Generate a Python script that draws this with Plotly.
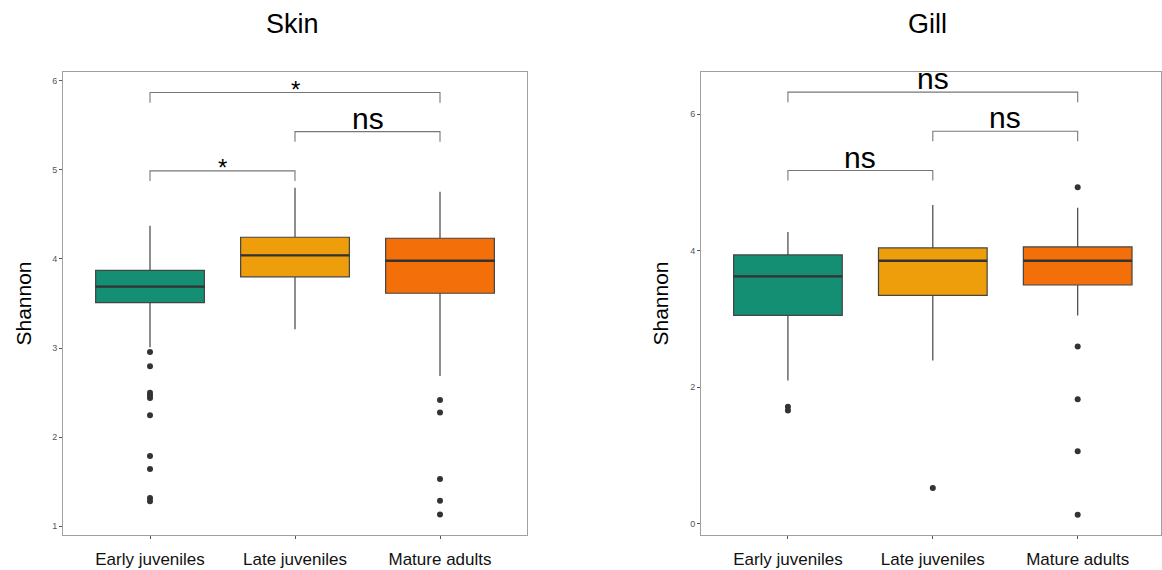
import plotly.graph_objects as go

categories = ["Early juveniles", "Late juveniles", "Mature adults"]
colors = ["#148F73", "#EE9E0A", "#F36F0A"]

# Skin panel stats
skin_q1 = [3.51, 3.80, 3.615]
skin_median = [3.69, 4.04, 3.98]
skin_q3 = [3.873, 4.244, 4.233]
skin_lower = [3.008, 3.21, 2.685]
skin_upper = [4.374, 4.80, 4.756]
skin_outliers = [
    [2.955, 2.794, 2.498, 2.469, 2.438, 2.244, 1.787, 1.640, 1.315, 1.278],
    [],
    [2.416, 2.277, 1.528, 1.285, 1.131],
]

# Gill panel stats
gill_q1 = [3.05, 3.344, 3.496]
gill_median = [3.623, 3.853, 3.853]
gill_q3 = [3.937, 4.04, 4.054]
gill_lower = [2.095, 2.39, 3.05]
gill_upper = [4.275, 4.671, 4.631]
gill_outliers = [
    [1.709, 1.655],
    [0.519],
    [4.93, 2.595, 1.822, 1.059, 0.128],
]

# Significance brackets: (group a, group b, bar height, tick bottom, label)
skin_brackets = [(0, 1, 4.989, 4.876, "*"), (1, 2, 5.43, 5.318, "ns"), (0, 2, 5.869, 5.756, "*")]
gill_brackets = [(0, 1, 5.175, 5.028, "ns"), (1, 2, 5.752, 5.605, "ns"), (0, 2, 6.325, 6.178, "ns")]

skin_ticks = [1, 2, 3, 4, 5, 6]
gill_ticks = [0, 2, 4, 6]

BOX_W = 0.75
FONT = "Liberation Sans, Arial, sans-serif"

fig = go.Figure()


def add_panel(xa, ya, q1, med, q3, lo, hi, outs, brackets):
    for i in range(len(categories)):
        fig.add_trace(go.Box(
            x=[i], q1=[q1[i]], median=[med[i]], q3=[q3[i]],
            lowerfence=[lo[i]], upperfence=[hi[i]],
            width=BOX_W, fillcolor=colors[i],
            line=dict(color="#444444", width=1.2),
            whiskerwidth=0, boxpoints=False,
            xaxis=xa, yaxis=ya, showlegend=False, hoverinfo="skip",
        ))
        # thicker median line
        fig.add_trace(go.Scatter(
            x=[i - BOX_W / 2, i + BOX_W / 2], y=[med[i], med[i]],
            mode="lines", line=dict(color="#333333", width=2.4),
            xaxis=xa, yaxis=ya, showlegend=False, hoverinfo="skip",
        ))
        if outs[i]:
            fig.add_trace(go.Scatter(
                x=[i] * len(outs[i]), y=outs[i], mode="markers",
                marker=dict(color="#333333", size=6),
                xaxis=xa, yaxis=ya, showlegend=False, hoverinfo="skip",
            ))
    for a, b, top, tick, lab in brackets:
        fig.add_trace(go.Scatter(
            x=[a, a, b, b], y=[tick, top, top, tick], mode="lines",
            line=dict(color="#777777", width=1.1),
            xaxis=xa, yaxis=ya, showlegend=False, hoverinfo="skip",
        ))
        if lab == "*":
            fig.add_annotation(x=(a + b) / 2, y=top, xref=xa, yref=ya.replace("axis", ""),
                               text=lab, showarrow=False, yanchor="bottom", yshift=-12,
                               font=dict(size=24, color="black", family=FONT))
        else:
            fig.add_annotation(x=(a + b) / 2, y=top, xref=xa, yref=ya.replace("axis", ""),
                               text=lab, showarrow=False, yanchor="bottom", yshift=-5,
                               font=dict(size=30, color="black", family=FONT))


add_panel("x", "y", skin_q1, skin_median, skin_q3, skin_lower, skin_upper, skin_outliers, skin_brackets)
add_panel("x2", "y2", gill_q1, gill_median, gill_q3, gill_lower, gill_upper, gill_outliers, gill_brackets)

W, H = 1162, 570
ydom = [1 - 535 / H, 1 - 72 / H]

xcommon = dict(
    tickvals=[0, 1, 2], ticktext=categories, showline=True, mirror=True,
    linecolor="#a0a0a0", linewidth=1, ticks="outside", ticklen=3, tickcolor="#555555",
    showgrid=False, zeroline=False, tickfont=dict(size=17, color="#111111", family=FONT),
    automargin=False, ticklabelstandoff=6,
)


def ycommon(standoff):
    return dict(
        showline=True, mirror=True, linecolor="#a0a0a0", linewidth=1, ticks="outside",
        ticklen=3, tickcolor="#555555", showgrid=False, zeroline=False,
        tickfont=dict(size=9, color="#555555", family=FONT), automargin=False,
        title=dict(text="Shannon", font=dict(size=21, color="black", family=FONT), standoff=standoff),
    )


fig.update_layout(
    width=W, height=H, margin=dict(l=0, r=0, t=0, b=0),
    paper_bgcolor="white", plot_bgcolor="white",
    xaxis=dict(domain=[63 / W, 527 / W], range=[-0.6, 2.6], anchor="y", **xcommon),
    yaxis=dict(domain=ydom, range=[0.9, 6.1], tickvals=skin_ticks, anchor="x", **ycommon(14)),
    xaxis2=dict(domain=[701 / W, 1161 / W], range=[-0.6, 2.575], anchor="y2", **xcommon),
    yaxis2=dict(domain=ydom, range=[-0.17, 6.62], tickvals=gill_ticks, anchor="x2", **ycommon(15)),
    font=dict(family=FONT),
)

fig.add_annotation(x=292 / W, y=1 - 24 / H, xref="paper", yref="paper", text="Skin",
                   xanchor="center", yanchor="middle",
                   showarrow=False, font=dict(size=27, color="black", family=FONT))
fig.add_annotation(x=927 / W, y=1 - 24 / H, xref="paper", yref="paper", text="Gill",
                   xanchor="center", yanchor="middle",
                   showarrow=False, font=dict(size=27, color="black", family=FONT))

fig.write_html("out.html", config={"displayModeBar": False},
               post_script="document.body.style.margin='0';")
